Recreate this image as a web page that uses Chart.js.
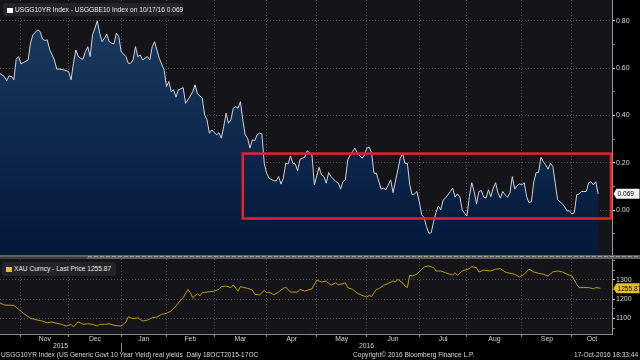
<!DOCTYPE html>
<html>
<head>
<meta charset="utf-8">
<script src="https://cdn.jsdelivr.net/npm/chart.js@4.4.0/dist/chart.umd.min.js"></script>
<style>
  html, body { margin:0; padding:0; background:#000; }
  #wrap { position:relative; width:640px; height:360px; overflow:hidden; background:#000;
          font-family:"Liberation Sans", Arial, sans-serif; }
  #topBox { position:absolute; left:0; top:0; width:640px; height:255px; }
  #botBox { position:absolute; left:0; top:259px; width:640px; height:101px; }
  #sep { position:absolute; left:0; top:255px; width:640px; height:4px; background:#5e5e5e; }
  #sep .thumb { position:absolute; left:0; top:2px; width:87px; height:2px; background:#3c3c3c; }
  #sep .dash { position:absolute; left:88px; right:0; top:1px; height:1px;
               background:repeating-linear-gradient(90deg,#8fb08f 0 2px,#b08a9a 2px 4px,transparent 4px 6px); }
  .lg { position:absolute; background:#232428; border-radius:3px; color:#e8e8e8; font-size:6.6px;
        line-height:13px; white-space:nowrap; }
  .sq { display:inline-block; width:6px; height:5px; margin:0 2px 0 4px; vertical-align:-0.5px; }
  .foot { position:absolute; top:351px; font-size:6.6px; color:#d8d8d8; white-space:nowrap; }
</style>
</head>
<body>
<div id="wrap">
  <div id="topBox"><canvas id="topChart"></canvas></div>
  <div id="sep"><div class="thumb"></div><div class="dash"></div></div>
  <div id="botBox"><canvas id="botChart"></canvas></div>

  <div class="lg" style="left:3px;top:3px;width:180px;height:13px;">
    <span class="sq" style="background:#fff"></span><span id="lgTop"></span>
  </div>
  <div class="lg" style="left:2px;top:262px;width:114px;height:14px;line-height:14px;">
    <span class="sq" style="background:#e4c21a"></span><span id="lgBot"></span>
  </div>

  <div class="foot" style="left:1px;">USGG10YR Index (US Generic Govt 10 Year Yield) real yields &nbsp;Daily 18OCT2015-17OC</div>
  <div class="foot" style="left:353px;">Copyright© 2016 Bloomberg Finance L.P.</div>
  <div class="foot" style="left:574px;">17-Oct-2016 18:33:44</div>
</div>

<script>
// x values are trading-day numbers counted from 19 Oct 2015 (holidays skipped)
const monthLabels = ['Nov','Dec','Jan','Feb','Mar','Apr','May','Jun','Jul','Aug','Sep','Oct'];
const monthStart  = [10, 30, 52, 71, 91, 113, 134, 155, 177, 197, 220, 241];
const yearLabels  = ['2015', '2016'];

// USGG10YR - USGGBE10 (real yield)
const yieldDay = [1,3,4,5,6,7,8,9,10,11,13,14,15,17,18,19,20,21,22,24,25,26,28,30,31,32,33,34,35,36,
  37,38,39,40,41,42,43,44,45,46,47,48,49,50,51,52,54,55,56,57,58,59,60,61,62,63,64,65,66,67,
  68,70,71,72,73,74,75,76,78,79,81,82,83,84,86,87,88,89,90,92,93,94,95,96,97,98,99,100,101,102,
  103,104,105,106,107,108,109,110,111,112,113,114,116,117,118,119,120,121,122,123,124,125,126,127,129,130,132,133,135,136,
  137,138,139,140,142,143,144,145,146,147,148,149,150,151,153,154,155,156,157,158,159,161,162,163,165,166,168,169,170,171,
  172,173,174,175,176,177,178,179,180,181,182,183,184,185,186,187,188,190,191,192,193,194,195,196,197,198,199,200,201,202,
  203,204,205,206,207,208,209,210,211,212,213,214,215,216,217,218,219,220,221,222,223,224,225,226,227,228,229,230,231,232,
  233,234,235,237,238,239,240,241,242,243,244,245,246,247,248,249,250,251,252];
const realYield = [.578,.564,.546,.567,.564,.550,.637,.648,.617,.623,.634,.705,.740,.761,.754,.722,.716,.719,.679,.634,.595,.596,.592,.585,.550,.620,.676,.648,.641,.637,
  .669,.690,.648,.740,.768,.799,.747,.711,.726,.743,.711,.705,.702,.747,.732,.669,.648,.620,.620,.634,.690,.648,.655,.634,.641,.648,.634,.690,.711,.676,
  .641,.592,.522,.543,.500,.508,.477,.508,.517,.451,.482,.500,.529,.491,.473,.402,.381,.325,.339,.318,.327,.304,.353,.409,.367,.381,.430,.437,.430,.458,
  .381,.318,.304,.262,.297,.294,.318,.325,.322,.198,.156,.135,.124,.124,.142,.110,.135,.198,.195,.229,.198,.195,.167,.215,.224,.251,.233,.107,.181,.149,
  .142,.114,.159,.142,.121,.116,.089,.121,.128,.212,.233,.247,.262,.243,.219,.233,.262,.266,.243,.156,.156,.089,.093,.086,.128,.074,.170,.219,.240,.198,
  .198,.107,.065,.069,.079,.036,-.020,-.030,-.069,-.097,-.095,-.048,-.010,.018,.001,.043,.051,.079,.093,.055,.069,.057,.001,-.013,-.024,.057,.116,.079,.027,.079,
  .083,.055,.051,.086,.057,.093,.116,.072,.051,.079,.065,.055,.072,.142,.089,.103,.111,.107,.116,.057,.032,.036,.120,.159,.159,.223,.205,.191,.173,.198,
  .184,.114,.044,.027,.013,-.003,-.003,-.016,-.010,.065,.069,.079,.079,.079,.116,.120,.107,.120,.069];
const yieldMajor = [0, 0.2, 0.4, 0.6, 0.8];
const yieldMinor = [-0.1, 0.1, 0.3, 0.5, 0.7];

// XAU Curncy last price
const goldDay = [1,3,7,9,11,14,17,19,21,23,25,27,29,31,32,34,36,38,40,42,43,45,47,49,52,54,55,57,59,61,
  63,65,67,69,71,73,75,77,78,80,81,82,84,85,86,88,91,93,94,96,98,99,101,102,105,107,108,110,112,113,
  114,116,118,120,121,123,126,127,129,132,134,136,138,140,142,143,145,146,147,149,151,153,155,156,157,159,160,162,164,166,
  167,168,170,171,172,173,174,176,178,179,181,183,184,186,188,191,192,193,195,198,199,201,202,204,207,209,211,213,215,217,
  219,221,223,225,227,229,231,233,235,237,239,241,243,244,246,248,250,251,253];
const goldPrice = [1181,1169,1167,1147,1126,1100,1091,1086,1077,1081,1074,1069,1060,1069,1056,1082,1069,1072,1069,1060,1069,1069,1072,1064,1060,1081,1108,1098,1103,1086,
  1091,1103,1107,1121,1126,1138,1164,1195,1207,1250,1233,1207,1227,1216,1233,1236,1241,1250,1264,1267,1259,1273,1241,1264,1255,1247,1224,1221,1245,1233,
  1236,1222,1236,1255,1262,1236,1236,1250,1241,1253,1298,1288,1293,1271,1284,1273,1279,1284,1259,1250,1230,1219,1210,1219,1212,1250,1253,1271,1281,1293,
  1288,1302,1284,1267,1259,1324,1319,1328,1354,1366,1371,1362,1345,1345,1336,1324,1336,1323,1345,1357,1367,1362,1340,1349,1345,1354,1357,1340,1333,1328,
  1314,1328,1354,1340,1333,1328,1319,1340,1345,1340,1328,1319,1276,1259,1259,1259,1253,1259,1255.87];
const goldMajor = [1100, 1200, 1300];
const goldMinor = [1050, 1150, 1250, 1350, 1400];

// the red box drawn round the recent range
const boxFromDay = 103;
const boxRange = [-0.035, 0.239];

const FONT = '"Liberation Sans", Arial, sans-serif';
const gridDot = 'rgba(150,160,175,0.42)';
const X_MIN = 1.2, X_MAX = 257.8;

const pts = (xs, ys) => xs.map((x, i) => ({x, y: ys[i]}));
const lastYield = realYield[realYield.length - 1];
const lastGold = goldPrice[goldPrice.length - 1];

document.getElementById('lgTop').textContent = 'USGG10YR Index - USGGBE10 Index on 10/17/16 ' + lastYield.toFixed(3);
document.getElementById('lgBot').textContent = 'XAU Curncy - Last Price ' + lastGold.toFixed(2);

// --- plugins ---
const panelBg = {
  id: 'panelBg',
  beforeDraw(chart) {
    const {ctx, chartArea: a} = chart;
    ctx.save();
    ctx.fillStyle = '#000';
    ctx.fillRect(0, 0, chart.width, chart.height);
    ctx.fillStyle = '#151519';
    ctx.fillRect(a.left, a.top, a.right - a.left, a.bottom - a.top);
    ctx.restore();
  }
};

function drawTag(chart, value, text, fill) {
  const {ctx, chartArea: a} = chart;
  const y = chart.scales.y.getPixelForValue(value);
  const x = a.right + 1.5;
  ctx.save();
  ctx.fillStyle = fill;
  ctx.beginPath();
  ctx.moveTo(x, y);
  ctx.lineTo(x + 3, y - 5);
  ctx.lineTo(x + 26, y - 5);
  ctx.lineTo(x + 26, y + 5);
  ctx.lineTo(x + 3, y + 5);
  ctx.closePath();
  ctx.fill();
  ctx.fillStyle = '#000';
  ctx.font = '6.6px ' + FONT;
  ctx.textBaseline = 'middle';
  ctx.fillText(text, x + 4, y + 0.5);
  ctx.restore();
}

const topExtras = {
  id: 'topExtras',
  afterDraw(chart) {
    const {ctx, scales: {x, y}} = chart;
    const l = x.getPixelForValue(boxFromDay), r = x.getPixelForValue(x.max) - 1;
    const t = y.getPixelForValue(boxRange[1]), b = y.getPixelForValue(boxRange[0]);
    ctx.save();
    ctx.strokeStyle = '#e8222a';
    ctx.lineWidth = 2.5;
    ctx.strokeRect(l, t, r - l, b - t);
    ctx.restore();
    drawTag(chart, lastYield, lastYield.toFixed(3), '#f2f2f2');
  }
};

const botExtras = {
  id: 'botExtras',
  afterDraw(chart) {
    const {ctx, chartArea: a, scales: {x}} = chart;
    const base = a.bottom;
    ctx.save();
    ctx.fillStyle = '#d4d4d4';
    ctx.font = '6.8px ' + FONT;
    ctx.textAlign = 'center';
    ctx.textBaseline = 'middle';
    monthLabels.forEach((m, i) => {
      const s = monthStart[i], e = i + 1 < monthStart.length ? monthStart[i + 1] : x.max;
      ctx.fillText(m, x.getPixelForValue((s + e) / 2), base + 5.5);
    });
    const jan = monthStart[monthLabels.indexOf('Jan')];
    ctx.fillText(yearLabels[0], x.getPixelForValue((x.min + jan) / 2), base + 12.5);
    ctx.fillText(yearLabels[1], x.getPixelForValue((jan + x.max) / 2), base + 12.5);
    const xj = Math.round(x.getPixelForValue(jan)) + 0.5;
    ctx.strokeStyle = '#8a8a8a';
    ctx.lineWidth = 1;
    ctx.beginPath();
    ctx.moveTo(xj, base + 9);
    ctx.lineTo(xj, base + 18);
    ctx.stroke();
    ctx.restore();
    drawTag(chart, lastGold, lastGold.toFixed(2), '#e4c21a');
  }
};

// drop the label padding chart.js adds, so the plot fills its panel
const noPad = s => { s.paddingTop = 0; s.paddingBottom = 0; s.paddingLeft = 0; s.paddingRight = 0; };

function monthAxis(height, drawTicks) {
  return {
    type: 'linear', min: X_MIN, max: X_MAX, z: 1,
    afterBuildTicks: s => { s.ticks = monthStart.map(v => ({value: v})); },
    afterFit: s => { s.height = height; noPad(s); },
    ticks: {display: false},
    grid: {color: gridDot, drawTicks: drawTicks, tickLength: 3, tickColor: '#8a8a8a'},
    border: {display: drawTicks, color: '#8a8a8a', dash: [1, 2]}
  };
}

function valueAxis(min, max, major, minor, fmt) {
  const all = major.concat(minor).sort((a, b) => a - b);
  return {
    position: 'right', min, max, z: 1,
    afterBuildTicks: s => { s.ticks = all.map(v => ({value: v})); },
    afterFit: s => { s.width = 28; noPad(s); },
    ticks: {
      autoSkip: false, color: '#d8d8d8', padding: 1,
      font: {size: 7, family: FONT},
      callback: v => major.includes(v) ? fmt(v) : ''
    },
    grid: {
      tickLength: 3,
      color: c => major.includes(c.tick.value) ? gridDot : 'transparent',
      tickColor: c => major.includes(c.tick.value) ? '#e6e6e6' : '#888'
    },
    border: {display: true, color: '#9a9a9a', dash: [1, 2]}
  };
}

const base = {
  responsive: true, maintainAspectRatio: false, animation: false,
  layout: {padding: 0},
  plugins: {legend: {display: false}, tooltip: {enabled: false}}
};

// --- Top panel: real yield area ---
new Chart(document.getElementById('topChart'), {
  type: 'line',
  data: {
    datasets: [{
      data: pts(yieldDay, realYield),
      borderColor: '#cdd2da', borderWidth: 1, pointRadius: 0, tension: 0,
      fill: 'start',
      backgroundColor: c => {
        const a = c.chart.chartArea;
        if (!a) return '#0e2848';
        const g = c.chart.ctx.createLinearGradient(0, a.top, 0, a.bottom);
        g.addColorStop(0, '#1d3c62');
        g.addColorStop(1, '#03183a');
        return g;
      }
    }]
  },
  options: Object.assign({}, base, {
    scales: {
      x: monthAxis(0, false),
      y: valueAxis(-0.189, 0.887, yieldMajor, yieldMinor, v => v.toFixed(2))
    }
  }),
  plugins: [panelBg, topExtras]
});

// --- Bottom panel: gold ---
new Chart(document.getElementById('botChart'), {
  type: 'line',
  data: {
    datasets: [{
      data: pts(goldDay, goldPrice),
      borderColor: '#b99b12', borderWidth: 1, pointRadius: 0, tension: 0, fill: false
    }]
  },
  options: Object.assign({}, base, {
    scales: {
      x: monthAxis(26, true),
      y: valueAxis(1019, 1407, goldMajor, goldMinor, v => String(v))
    }
  }),
  plugins: [panelBg, botExtras]
});
</script>
</body>
</html>
